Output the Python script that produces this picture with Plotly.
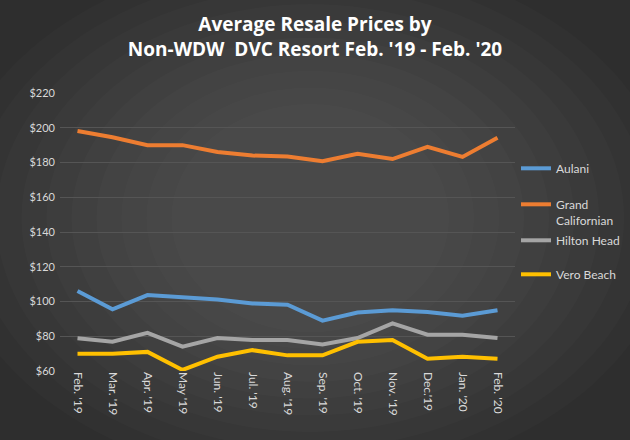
import plotly.graph_objects as go

# ---- data ----
months = ["Feb. '19", "Mar. '19", "Apr. '19", "May '19", "Jun. '19", "Jul. '19", "Aug. '19",
          "Sep. '19", "Oct. '19", "Nov. '19", "Dec.'19", "Jan. '20", "Feb. '20"]
aulani = [106, 95.5, 103.7, 102.4, 101.2, 98.9, 98.1, 89, 93.7, 95, 94, 91.8, 95]
grand_californian = [198.1, 194.5, 190, 190, 186.1, 184, 183.5, 180.8, 185, 182, 189, 183.2, 194.2]
hilton_head = [78.8, 76.8, 82, 74, 79, 77.8, 77.8, 75.3, 79, 87.4, 80.9, 80.9, 79]
vero_beach = [70, 70, 71, 60.6, 68.2, 72, 69, 69, 76.8, 77.8, 67, 68.2, 67]

series = [
    ("Aulani", aulani, "#5b9bd5"),
    ("Grand<br>Californian", grand_californian, "#ed7d31"),
    ("Hilton Head", hilton_head, "#a5a5a5"),
    ("Vero Beach", vero_beach, "#ffc000"),
]

W, H = 630, 440
L, R, T, B = 60, 115, 93, 69
plot_w = W - L - R
plot_h = H - T - B

fig = go.Figure()

legend_names = ["legend2", "legend3", "legend4", "legend5"]
legend_y_px = [164, 200, 236, 270]  # first legend line, px from top

for (name, vals, color), lg in zip(series, legend_names):
    fig.add_trace(go.Scatter(
        x=months, y=vals, mode="lines", name=name,
        line=dict(color=color, width=4),
        legend=lg,
    ))

legend_font = dict(family="Lato, sans-serif", size=12, color="#d9d9d9")
lx = (516 - L) / plot_w
legend_cfg = {}
for lg, ypx in zip(legend_names, legend_y_px):
    legend_cfg[lg] = dict(
        x=lx, xanchor="left",
        y=1 - (ypx - 10 - T) / plot_h, yanchor="top",
        bgcolor="rgba(0,0,0,0)", font=legend_font,
        valign="top", itemwidth=30,
    )

# soft radial-ish background glow
shapes = []
for i in range(10):
    f = i / 10
    shapes.append(dict(
        type="circle", xref="paper", yref="paper", layer="below",
        x0=-0.25 + f * 0.55, x1=1.35 - f * 0.55,
        y0=-0.4 + f * 0.6, y1=1.5 - f * 0.6,
        fillcolor="rgba(255,255,255,0.016)", line=dict(width=0),
    ))

fig.update_layout(
    width=W, height=H,
    margin=dict(l=L, r=R, t=T, b=B, autoexpand=False),
    paper_bgcolor="#2e2e2e",
    plot_bgcolor="rgba(0,0,0,0)",
    font=dict(family="Lato, sans-serif", color="#d9d9d9"),
    showlegend=True,
    title=dict(
        text="<b>Average Resale Prices by<br>Non-WDW  DVC Resort Feb. '19 - Feb. '20</b>",
        x=0.5, xref="container", xanchor="center",
        yref="container", y=1 - 31 / H, yanchor="middle",
        font=dict(family="Open Sans, sans-serif", size=19, color="#ffffff"),
    ),
    shapes=shapes,
    **legend_cfg,
)

fig.update_xaxes(
    type="category", range=[-0.5, 12.5],
    tickangle=90, tickfont=dict(size=12, color="#d9d9d9"),
    showgrid=False, showline=False, zeroline=False, ticks="",
)
fig.update_yaxes(
    range=[60, 220], dtick=20, tickprefix="$",
    tickfont=dict(size=11, color="#d9d9d9"),
    gridcolor="#555555", gridwidth=1, zeroline=False, showline=False,
    ticks="", ticklabelstandoff=4,
)

# drop the browser's default page margin so the figure fills the window
fig.write_html("out.html", config={"displayModeBar": False},
               post_script="document.body.style.margin='0';")
